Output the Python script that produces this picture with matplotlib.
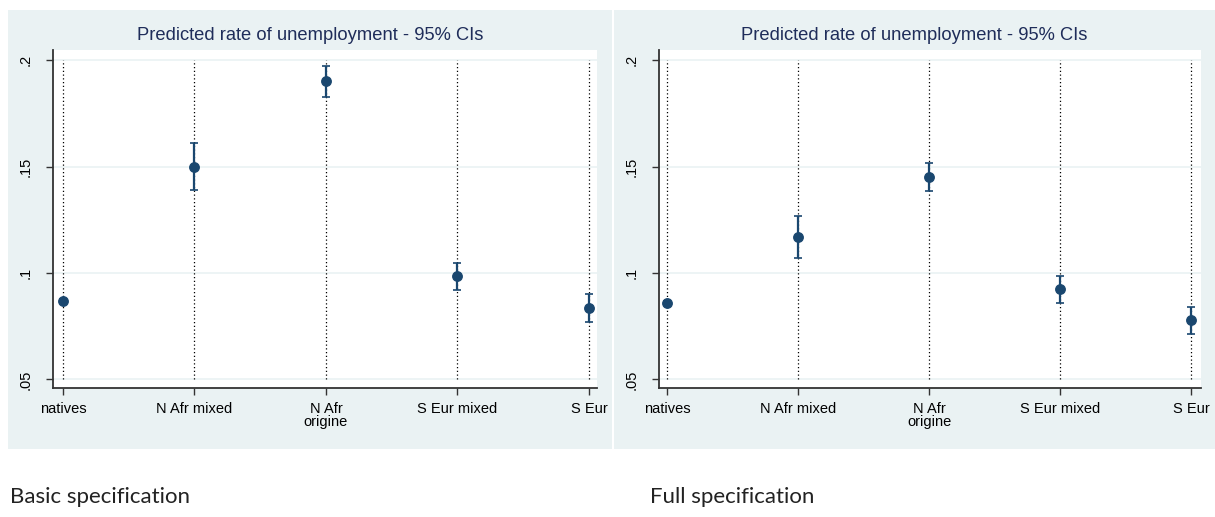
import matplotlib.pyplot as plt
from matplotlib.patches import Rectangle

W, H = 1215, 517

categories = ["natives", "N Afr mixed", "N Afr\norigine", "S Eur mixed", "S Eur"]

# basic specification
basic_est = [0.0868, 0.1500, 0.1900, 0.0988, 0.0835]
basic_lo = [0.0858, 0.1392, 0.1826, 0.0921, 0.0769]
basic_hi = [0.0878, 0.1608, 0.1970, 0.1047, 0.0900]

# full specification
full_est = [0.0859, 0.1169, 0.1450, 0.0923, 0.0777]
full_lo = [0.0850, 0.1070, 0.1383, 0.0861, 0.0712]
full_hi = [0.0868, 0.1266, 0.1517, 0.0984, 0.0841]

y_ticks = [0.05, 0.1, 0.15, 0.2]
y_labels = [".05", ".1", ".15", ".2"]

panel_titles = ["Basic specification", "Full specification"]
chart_title = "Predicted rate of unemployment - 95% CIs"

navy = "#1a476f"
bg = "#eaf2f3"

plt.rcParams["font.family"] = ["Liberation Sans", "DejaVu Sans"]

fig = plt.figure(figsize=(W / 100, H / 100), dpi=100)
fig.patch.set_facecolor("white")


def px_rect(x0, y0, x1, y1):
    # pixel box (top-left origin) -> figure fraction [l, b, w, h]
    return [x0 / W, (H - y1) / H, (x1 - x0) / W, (y1 - y0) / H]


def draw_panel(panel_box, ax_box, xlim, est, lo, hi, caption, cap_x):
    l, b, w, h = px_rect(*panel_box)
    fig.patches.append(Rectangle((l, b), w, h, transform=fig.transFigure,
                                 facecolor=bg, edgecolor="none", zorder=-5))
    ax = fig.add_axes(px_rect(*ax_box))
    ax.set_zorder(2)
    ax.set_facecolor("white")
    xs = list(range(len(categories)))

    for y in y_ticks:
        ax.axhline(y, color=bg, lw=1.2, zorder=1)
    ax.vlines(xs, 0.05, 0.2, colors="black", linestyles=(0, (1, 2)), lw=0.9, zorder=2)

    yerr = [[e - a for e, a in zip(est, lo)], [b_ - e for e, b_ in zip(est, hi)]]
    ax.errorbar(xs, est, yerr=yerr, fmt="o", color=navy, ms=6.8, elinewidth=1.6,
                capsize=3.2, capthick=1.2, zorder=3)

    ax.set_xlim(*xlim)
    ax.set_ylim(0.046, 0.2047)
    ax.set_xticks(xs)
    ax.set_xticklabels(categories, fontsize=10.5, linespacing=0.95)
    ax.set_yticks(y_ticks)
    ax.set_yticklabels(y_labels, rotation=90, va="center", fontsize=10.5)
    ax.tick_params(axis="both", direction="out", length=5, width=1, color="#333333")
    ax.tick_params(axis="y", pad=10)
    ax.tick_params(axis="x", pad=5)
    for s in ["top", "right"]:
        ax.spines[s].set_visible(False)
    for s in ["left", "bottom"]:
        ax.spines[s].set_color("#333333")
        ax.spines[s].set_linewidth(1.3)

    cx = (panel_box[0] + panel_box[2]) / 2 / W
    fig.text(cx, 1 - 36 / H, chart_title, ha="center", va="center",
             fontsize=13.2, color="#1f2d5a")
    fig.text(cap_x / W, 1 - 497 / H, caption, ha="left", va="center",
             fontsize=16, family="Lato", color="#222222")
    return ax


draw_panel((8, 10, 612, 449), (53, 50, 597, 388), (-0.076, 4.061),
           basic_est, basic_lo, basic_hi, panel_titles[0], 10)
draw_panel((614, 10, 1215, 449), (659, 50, 1201, 388), (-0.061, 4.076),
           full_est, full_lo, full_hi, panel_titles[1], 650)

fig.savefig("out.png", dpi=100)
